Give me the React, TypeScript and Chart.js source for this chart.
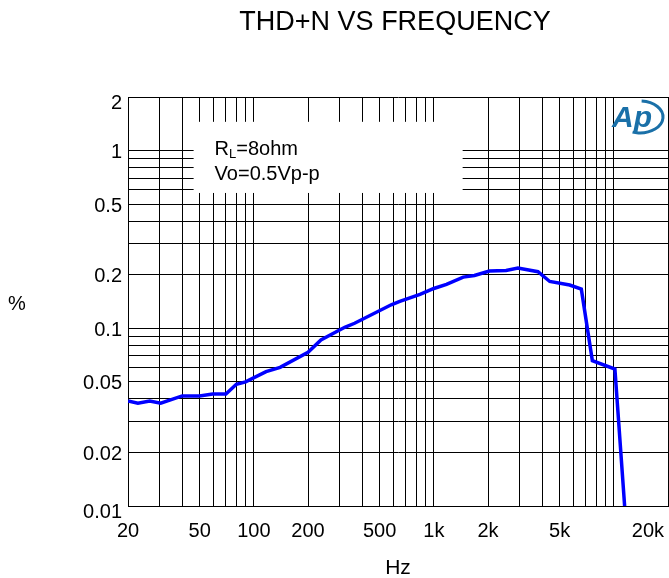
import React, { useEffect, useRef } from 'react';
import { Chart, registerables } from 'chart.js';

Chart.register(...registerables);

// ---- data ----
const FREQ_HZ = [20, 22.7, 26.4, 30.4, 40, 50, 59, 70, 80, 90, 117, 140, 200, 236, 320, 363, 580, 647, 838, 1000, 1176, 1457, 1682, 2036, 2520, 2933, 3790, 4406, 5686, 6600, 7600, 10140, 11500];
const THD_PCT = [0.039, 0.0379, 0.039, 0.0379, 0.0416, 0.0416, 0.0427, 0.0427, 0.0484, 0.0499, 0.057, 0.0603, 0.0732, 0.086, 0.1013, 0.1067, 0.1355, 0.1415, 0.155, 0.1674, 0.1767, 0.194, 0.198, 0.21, 0.2114, 0.218, 0.208, 0.1833, 0.175, 0.166, 0.0657, 0.059, 0.0098];

const X_GRID = [20, 30, 40, 50, 60, 70, 80, 90, 100, 200, 300, 400, 500, 600, 700, 800, 900, 1000, 2000, 3000, 4000, 5000, 6000, 7000, 8000, 9000, 10000, 20000];
const Y_GRID = [0.01, 0.02, 0.03, 0.04, 0.05, 0.06, 0.07, 0.08, 0.09, 0.1, 0.2, 0.3, 0.4, 0.5, 0.6, 0.7, 0.8, 0.9, 1, 2];

const X_TICKS = [20, 50, 100, 200, 500, 1000, 2000, 5000, 20000];
const X_TICK_LABELS = ['20', '50', '100', '200', '500', '1k', '2k', '5k', '20k'];
const Y_TICKS = [2, 1, 0.5, 0.2, 0.1, 0.05, 0.02, 0.01];
const Y_TICK_LABELS = ['2', '1', '0.5', '0.2', '0.1', '0.05', '0.02', '0.01'];

const TITLE = 'THD+N VS FREQUENCY';
const X_TITLE = 'Hz';
const Y_TITLE = '%';
const NOTE_R = 'R';
const NOTE_R_SUB = 'L';
const NOTE_R_REST = '=8ohm';
const NOTE_V = 'Vo=0.5Vp-p';
const LOGO = 'Ap';

const FONT = '"Liberation Sans", Arial, Helvetica, sans-serif';

const decorPlugin = {
  id: 'decor',
  beforeDatasetsDraw(chart: any) {
    const { ctx } = chart;
    const xs = chart.scales.x;
    const ys = chart.scales.y;
    // white note box covering the grid
    const x0 = xs.getPixelForValue(46.3);
    const x1 = xs.getPixelForValue(1446);
    const yTop = ys.getPixelForValue(1.45);
    const yBot = ys.getPixelForValue(0.577);
    ctx.save();
    ctx.fillStyle = '#ffffff';
    ctx.fillRect(x0, yTop, x1 - x0, yBot - yTop);
    ctx.fillStyle = '#000';
    ctx.textBaseline = 'alphabetic';
    ctx.textAlign = 'left';
    const tx = x0 + 21;
    ctx.font = `20px ${FONT}`;
    ctx.fillText(NOTE_R, tx, yTop + 33);
    const wR = ctx.measureText(NOTE_R).width;
    ctx.font = `13px ${FONT}`;
    ctx.fillText(NOTE_R_SUB, tx + wR, yTop + 36);
    const wL = ctx.measureText(NOTE_R_SUB).width;
    ctx.font = `20px ${FONT}`;
    ctx.fillText(NOTE_R_REST, tx + wR + wL, yTop + 33);
    ctx.fillText(NOTE_V, tx, yTop + 58);
    ctx.restore();
  },
  afterDraw(chart: any) {
    const { ctx, chartArea } = chart;
    const xs = chart.scales.x;
    const ys = chart.scales.y;
    ctx.save();
    ctx.fillStyle = '#000';
    // y tick labels
    ctx.font = `20px ${FONT}`;
    ctx.textAlign = 'right';
    ctx.textBaseline = 'middle';
    Y_TICKS.forEach((v, i) => {
      let y = ys.getPixelForValue(v) + 2;
      if (i === 0) y = chartArea.top + 6;
      if (i === Y_TICKS.length - 1) y = chartArea.bottom + 6;
      ctx.fillText(Y_TICK_LABELS[i], chartArea.left - 6, y);
    });
    // x tick labels
    ctx.textAlign = 'center';
    X_TICKS.forEach((v, i) => {
      const label = X_TICK_LABELS[i];
      const w = ctx.measureText(label).width;
      let x = xs.getPixelForValue(v);
      if (x + w / 2 > chart.width - 5) x = chart.width - 5 - w / 2;
      ctx.fillText(label, x, chartArea.bottom + 25);
    });
    // axis titles
    ctx.font = `21px ${FONT}`;
    ctx.fillText(X_TITLE, (chartArea.left + chartArea.right) / 2, chartArea.bottom + 62);
    ctx.font = `20px ${FONT}`;
    ctx.fillText(Y_TITLE, 17, 304);
    // main title
    ctx.font = `27px ${FONT}`;
    ctx.fillText(TITLE, (chartArea.left + chartArea.right) / 2 - 3, 23);
    // logo
    const lx = chartArea.right - 56;
    const ly = chartArea.top + 3;
    ctx.strokeStyle = '#1a70a8';
    ctx.fillStyle = '#1a70a8';
    ctx.lineWidth = 3;
    ctx.beginPath();
    ctx.ellipse(lx + 28, ly + 17, 23, 16, 0, -1.5, 1.9);
    ctx.stroke();
    ctx.font = `italic bold 30px ${FONT}`;
    ctx.textAlign = 'left';
    ctx.textBaseline = 'alphabetic';
    ctx.fillText(LOGO, lx, ly + 27);
    ctx.restore();
  },
};

export default function App() {
  const canvasRef = useRef<HTMLCanvasElement | null>(null);

  useEffect(() => {
    const canvas = canvasRef.current;
    if (!canvas) return;
    const points = FREQ_HZ.map((f, i) => ({ x: f, y: THD_PCT[i] }));
    const chart = new Chart(canvas, {
      type: 'scatter',
      data: {
        datasets: [
          {
            data: points,
            showLine: true,
            borderColor: '#0000ff',
            backgroundColor: '#0000ff',
            borderWidth: 3.5,
            pointRadius: 0,
            tension: 0,
          },
        ],
      },
      options: {
        responsive: false,
        animation: false,
        layout: { padding: { left: 128, top: 97, right: 1, bottom: 72 } },
        plugins: {
          legend: { display: false },
          title: { display: false },
          tooltip: { enabled: false },
        },
        scales: {
          x: {
            type: 'logarithmic',
            min: 20,
            max: 20000,
            afterBuildTicks: (scale: any) => {
              scale.ticks = X_GRID.map((v) => ({ value: v }));
            },
            ticks: { display: false },
            grid: { color: '#000', lineWidth: 1, drawTicks: false },
            border: { color: '#000', width: 1 },
          },
          y: {
            type: 'logarithmic',
            min: 0.01,
            max: 2,
            afterBuildTicks: (scale: any) => {
              scale.ticks = Y_GRID.map((v) => ({ value: v }));
            },
            ticks: { display: false },
            grid: { color: '#000', lineWidth: 1, drawTicks: false },
            border: { color: '#000', width: 1 },
          },
        },
      },
      plugins: [decorPlugin],
    } as any);
    return () => chart.destroy();
  }, []);

  return (
    <div style={{ position: 'fixed', left: 0, top: 0, width: 669, height: 578, background: '#fff' }}>
      <canvas ref={canvasRef} width={669} height={578} style={{ display: 'block' }} />
    </div>
  );
}
